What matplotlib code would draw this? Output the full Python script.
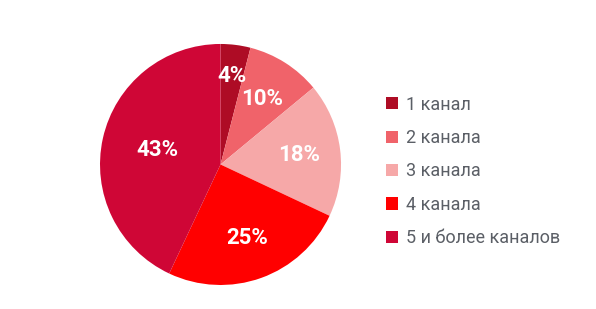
import numpy as np
import matplotlib.pyplot as plt
from matplotlib.patches import Patch

# data
labels = ["1 канал", "2 канала", "3 канала", "4 канала", "5 и более каналов"]
shares = [4, 10, 18, 25, 43]
colors = ["#ae0c25", "#f0636a", "#f6a8a8", "#ff0000", "#cf0636"]
label_r = [0.74, 0.64, 0.66, 0.65, 0.54]

fig = plt.figure(figsize=(5.96, 3.09), dpi=100)
ax = fig.add_axes([0.1678, 0.0777, 0.4044, 0.78])
ax.pie(shares, colors=colors, startangle=90, counterclock=False,
       radius=1, wedgeprops=dict(linewidth=0))
ax.set_xlim(-1, 1)
ax.set_ylim(-1, 1)
ax.set_aspect("equal")
ax.axis("off")

# percentage labels at each wedge's middle angle
total = sum(shares)
start = 90.0
for v, r in zip(shares, label_r):
    span = 360.0 * v / total
    mid = np.deg2rad(start - span / 2)
    ax.text(r * np.cos(mid), r * np.sin(mid), f"{v}%", ha="center", va="center",
            color="white", fontsize=16, fontweight="bold", family="Roboto")
    start -= span

handles = [Patch(facecolor=c, edgecolor="none") for c in colors]
leg = fig.legend(handles, labels, loc="center left", bbox_to_anchor=(0.62, 0.445),
                 frameon=False, handlelength=0.65, handleheight=0.65,
                 handletextpad=0.45, labelspacing=0.85,
                 prop=dict(family="Roboto", size=13))
for t in leg.get_texts():
    t.set_color("#5b5f66")

fig.savefig("out.png", dpi=100)
